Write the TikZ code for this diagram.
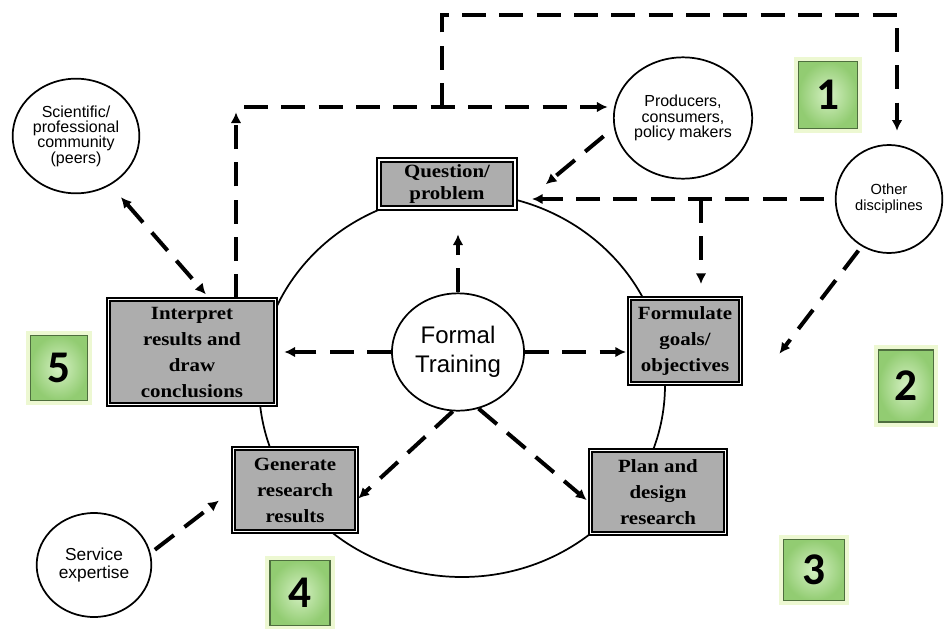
\documentclass[tikz,border=0pt]{standalone}
\usepackage{fontspec}
\setmainfont{Liberation Serif}
\setsansfont{Liberation Sans}
\newfontfamily\boxfont{Liberation Serif}[FakeStretch=1.12]
\newfontfamily\tagfont{Carlito}
\usetikzlibrary{arrows.meta, shapes.geometric}
\definecolor{tagmid}{HTML}{D4F0C2}
\definecolor{tagedge}{HTML}{92CC72}
\definecolor{tagline}{HTML}{4E6E3E}
\definecolor{tagglow}{HTML}{E2F4B4}

\begin{document}
\begin{tikzpicture}[x=0.75pt,y=-0.75pt,>={Latex[length=8pt,width=8pt]},
        stage/.style={draw,line width=1.5pt,double=white,double distance=1.1pt,
            fill=black!32,align=center,inner sep=0pt,
            font=\boxfont\bfseries\fontsize{14}{19.5}\selectfont},
        party/.style={ellipse,draw,line width=1.3pt,fill=white,align=center,
            inner sep=0pt,font=\sffamily\fontsize{12}{11.5}\selectfont},
        flow/.style={->,line width=3pt,dash pattern=on 18pt off 10pt},
        tag/.style={draw=tagline,line width=0.8pt,inner color=tagmid,outer color=tagedge,
            inner sep=0pt,font=\tagfont\bfseries\fontsize{34}{34}\selectfont,
            preaction={draw=tagglow,line width=7pt,opacity=0.6}}]
        \fill[white] (0,0) rectangle (944,628);
        \useasboundingbox (0,0) rectangle (944,628);

        % research cycle
        \draw[line width=1.3pt] (462,385) ellipse [x radius=203, y radius=192];

        \node[stage,minimum width=102pt,minimum height=36pt,
            font=\boxfont\bfseries\fontsize{14}{16.5}\selectfont] (q) at (447,184) {Question/\\problem};
        \node[stage,minimum width=83pt,minimum height=64pt] (fg) at (685,341) {Formulate\\goals/\\objectives};
        \node[stage,minimum width=101pt,minimum height=62pt] (pd) at (658,492) {Plan and\\design\\research};
        \node[stage,minimum width=92pt,minimum height=62pt] (gr) at (295,490) {Generate\\research\\results};
        \node[stage,minimum width=125pt,minimum height=79pt] (ir) at (192,352) {Interpret\\results and\\draw\\conclusions};

        \node[party,minimum width=99pt,minimum height=88pt,
            font=\sffamily\fontsize{18}{22}\selectfont] (ft) at (458,352) {Formal\\Training};
        \node[party,minimum width=95pt,minimum height=86pt] (sc) at (76,136) {Scientific/\\professional\\community\\(peers)};
        \node[party,minimum width=93pt,minimum height=91pt] (pc) at (683,118) {Producers,\\consumers,\\policy makers};
        \node[party,minimum width=80pt,minimum height=81pt,
            font=\sffamily\fontsize{11}{12}\selectfont] (od) at (889,199) {Other\\disciplines};
        \node[party,minimum width=86pt,minimum height=78pt,
            font=\sffamily\fontsize{13}{13}\selectfont] (se) at (94,565) {Service\\expertise};

        % numbered tags
        \node[tag,minimum width=44pt,minimum height=50pt] (t1) at (828,95) {1};
        \node[tag,minimum width=41pt,minimum height=54pt] (t2) at (906,386) {2};
        \node[tag,minimum width=46pt,minimum height=46pt] (t3) at (814,570) {3};
        \node[tag,minimum width=45pt,minimum height=49pt] (t4) at (300,593) {4};
        \node[tag,minimum width=43pt,minimum height=49pt] (t5) at (59,368) {5};

        % dashed flows
        \coordinate (tl) at (236,107);
        \coordinate (tm) at (442,107);
        \coordinate (tr) at (897,15);
        \coordinate (br) at (701,0);

        \draw[flow,shorten >=4pt] (tl |- ir.north) -- (tl);
        \draw[flow,shorten <=6pt,shorten >=4pt] (tl) -- (tl -| pc.west);
        \draw[flow,shorten >=10pt] (tm) |- (tr) -- (tr |- od.north);
        \draw[flow,shorten <=10pt,shorten >=29pt] (pc.188) -- (q.south east);
        \draw[flow,shorten <=8pt,shorten >=12pt] (od.west) -- (od.west -| q.east);
        \draw[flow,shorten >=10pt] (br |- od.west) -- (br |- fg.north);
        \draw[flow,shorten <=4pt,shorten >=47pt] (od.240) -- ([yshift=-14pt]fg.south east);
        \draw[flow,shorten >=19pt] (ft.north) -- (ft.north |- q.south);
        \draw[flow,shorten >=2pt] (ft.east) -- (ft.east -| fg.west);
        \draw[flow,shorten >=6pt] (ft.west) -- (ft.west -| ir.east);
        \draw[flow,shorten >=1pt] (ft.265) -- ([yshift=-7pt]gr.east);
        \draw[flow,shorten >=3pt] (ft.290) -- ([yshift=-8pt]pd.west);
        \draw[flow,<->,shorten <=12pt,shorten >=4pt] (sc.305) -- ([xshift=13pt]ir.north);
        \draw[flow,shorten <=4pt,shorten >=13pt] (se.12) -- (gr.west);
    \end{tikzpicture}
\end{document}
